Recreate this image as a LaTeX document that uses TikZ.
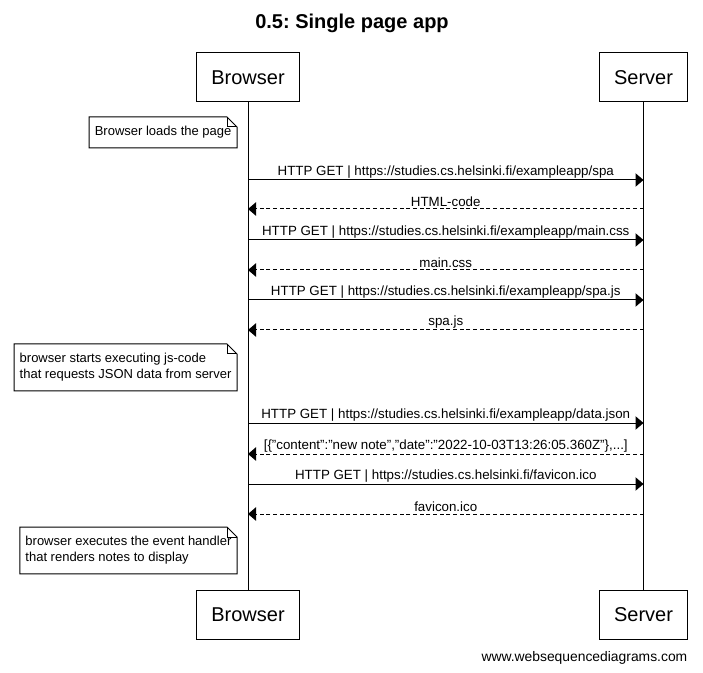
\documentclass[tikz,border=0pt]{standalone}
\usepackage{fontspec}
\setmainfont{Liberation Sans}
\usetikzlibrary{arrows.meta}
\frenchspacing
\newcommand{\qq}{\symbol{34}}
\newcommand{\dogear}[1]{%
  \draw[line width=0.75pt] (#1.north west) -- ([xshift=-7.5pt]#1.north east) -- ([yshift=-7.5pt]#1.north east) -- (#1.south east) -- (#1.south west) -- cycle;
  \draw[line width=0.75pt] ([xshift=-7.5pt]#1.north east) -- ([xshift=-7.5pt,yshift=-7.5pt]#1.north east) -- ([yshift=-7.5pt]#1.north east);}
\begin{document}
\begin{tikzpicture}[x=0.75pt,y=-0.75pt, every node/.style={font=\fontsize{10}{12}\selectfont},
  actor/.style={draw, line width=0.75pt, minimum height=36.75pt, inner xsep=11pt, font=\fontsize{15}{17}\selectfont},
  life/.style={line width=0.75pt},
  note/.style={anchor=north east, align=left, inner xsep=4pt, inner ysep=6.8pt, font=\fontsize{9.75}{12}\selectfont},
  req/.style={line width=0.75pt, -{Triangle[length=6pt, width=10pt]}},
  resp/.style={req, dash pattern=on 3pt off 2pt},
  lbl/.style={above, inner sep=1.2pt}]
\useasboundingbox (0,0) rectangle (703,673);
\node[font=\bfseries\fontsize{15}{17}\selectfont] (title) at (352,23) {0.5: Single page app};
\node[actor] (bT) at (248,77.5) {Browser};
\node[actor] (sT) at (643.5,77.5) {Server};
\node[actor] (bB) at (248,615) {Browser};
\node[actor] (sB) at (643.5,615) {Server};
\draw[life] (bT) -- (bB);
\draw[life] (sT) -- (sB);
\foreach \i/\y in {1/180,2/209,3/240,4/270,5/300,6/330,7/423,8/454,9/484,10/514}{
  \coordinate (b\i) at (248,\y);
  \coordinate (s\i) at (643.5,\y);}
\node[note] (n1) at (237,117) {Browser loads the page};
\dogear{n1}
\draw[req] (b1) -- node[lbl] {HTTP GET | https://studies.cs.helsinki.fi/exampleapp/spa} (s1);
\draw[resp] (s2) -- node[lbl] {HTML-code} (b2);
\draw[req] (b3) -- node[lbl] {HTTP GET | https://studies.cs.helsinki.fi/exampleapp/main.css} (s3);
\draw[resp] (s4) -- node[lbl] {main.css} (b4);
\draw[req] (b5) -- node[lbl] {HTTP GET | https://studies.cs.helsinki.fi/exampleapp/spa.js} (s5);
\draw[resp] (s6) -- node[lbl] {spa.js} (b6);
\node[note] (n2) at (237,344) {browser starts executing js-code\\that requests JSON data from server};
\dogear{n2}
\draw[req] (b7) -- node[lbl] {HTTP GET | https://studies.cs.helsinki.fi/exampleapp/data.json} (s7);
\draw[resp] (s8) -- node[lbl] {[\{\qq content\qq:\qq new note\qq,\qq date\qq:\qq 2022-10-03T13:26:05.360Z\qq\},...]} (b8);
\draw[req] (b9) -- node[lbl] {HTTP GET | https://studies.cs.helsinki.fi/favicon.ico} (s9);
\draw[resp] (s10) -- node[lbl] {favicon.ico} (b10);
\node[note] (n3) at (237,527) {browser executes the event handler\\that renders notes to display};
\dogear{n3}
\node[anchor=east, font=\fontsize{10.4}{12}\selectfont] (wm) at (692,658) {www.websequencediagrams.com};
\end{tikzpicture}
\end{document}
